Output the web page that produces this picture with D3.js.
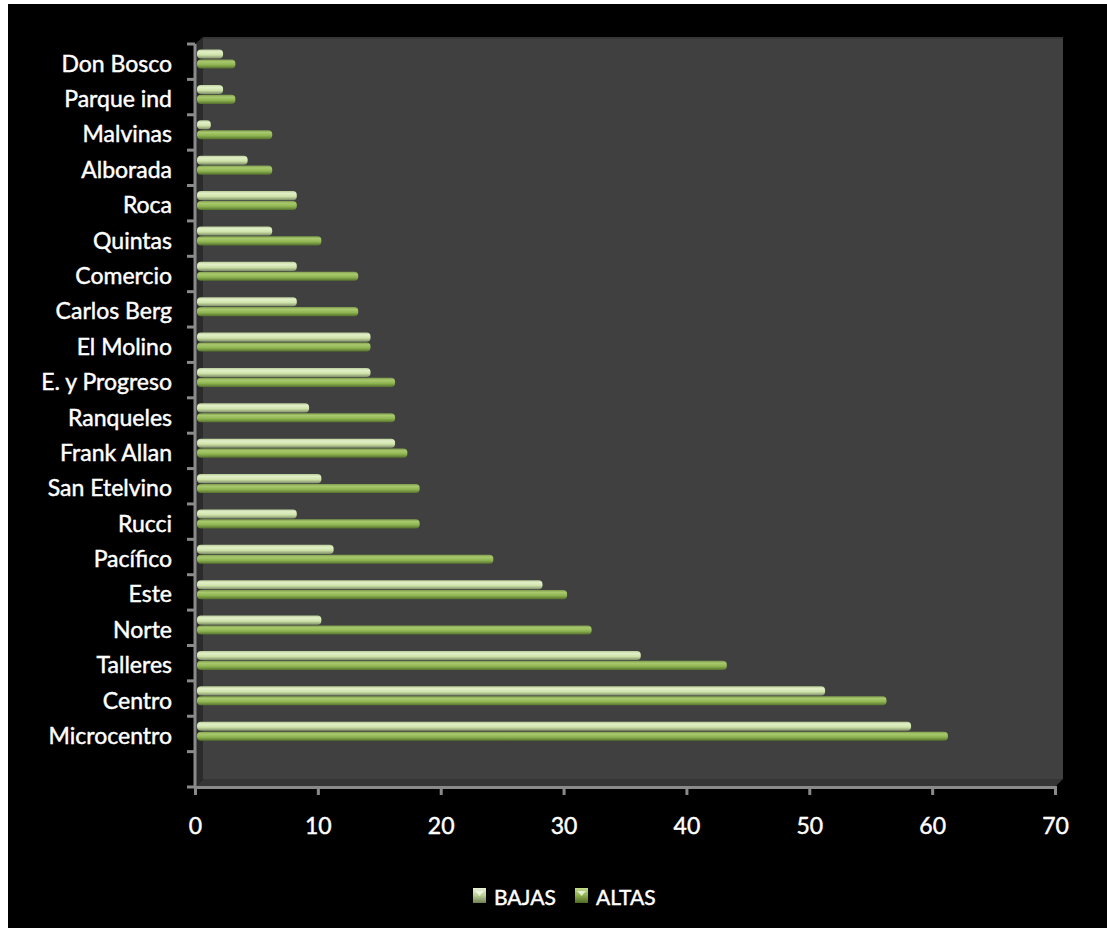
<!DOCTYPE html>
<html><head><meta charset="utf-8">
<script src="https://cdn.jsdelivr.net/npm/d3@7/dist/d3.min.js"></script>
<style>
html,body{margin:0;padding:0;background:#fff;}
svg{display:block;}
text{font-family:Lato,"Open Sans",sans-serif;fill:#fff;stroke:#fff;stroke-width:0.45px;}
</style></head>
<body>
<svg id="c" width="1107" height="928"></svg>
<script>
const categories = ["Don Bosco","Parque ind","Malvinas","Alborada","Roca","Quintas","Comercio","Carlos Berg","El Molino","E. y Progreso","Ranqueles","Frank Allan","San Etelvino","Rucci","Pacífico","Este","Norte","Talleres","Centro","Microcentro"];
const bajas = [2,2,1,4,8,6,8,8,14,14,9,16,10,8,11,28,10,36,51,58];
const altas = [3,3,6,6,8,10,13,13,14,16,16,17,18,18,24,30,32,43,56,61];
const seriesNames = ["BAJAS","ALTAS"];
const xTicks = [0,10,20,30,40,50,60,70];

(function(){
const svg = d3.select("#c");
svg.append("rect").attr("x",8).attr("y",4).attr("width",1099).attr("height",924).attr("fill","#000");

const pL=195, pR=1055, pT=44, pB=787, depth=8;
const x = d3.scaleLinear().domain([0,70]).range([pL,pR]);
const step = (pB-pT)/(categories.length+1);
const y0 = d3.scaleBand().domain(categories).range([pT, pB-step]).paddingInner(0).paddingOuter(0);
const y1 = d3.scaleBand().domain(seriesNames).range([5.5, 24.5]).paddingInner(0.08);

const defs = svg.append("defs");
function grad(id, stops){
  const g = defs.append("linearGradient").attr("id",id).attr("x1",0).attr("y1",0).attr("x2",0).attr("y2",1);
  stops.forEach(s=>g.append("stop").attr("offset",s[0]).attr("stop-color",s[1]));
}
grad("gB",[[0,"#b8cc98"],[0.25,"#e2f0c8"],[0.6,"#cfe3aa"],[1,"#7f8f68"]]);
grad("gA",[[0,"#7e9c4c"],[0.25,"#a9c96e"],[0.6,"#8fb551"],[1,"#55702e"]]);
grad("lB",[[0,"#e8f2d8"],[0.5,"#b9cf96"],[1,"#6f8050"]]);
grad("lA",[[0,"#c4dc90"],[0.5,"#8cb04c"],[1,"#4f6a26"]]);

// 3D walls
svg.append("polygon").attr("points",`${pL},${pT} ${pL+depth},${pT-depth+1} ${pL+depth},${pB-depth} ${pL},${pB}`).attr("fill","#2b2b2b");
svg.append("rect").attr("x",pL+depth).attr("y",pT-depth+1).attr("width",pR-pL).attr("height",pB-pT-1).attr("fill","#404040");
svg.append("rect").attr("x",pL+depth).attr("y",pT-depth+1).attr("width",pR-pL).attr("height",2).attr("fill","#363636");
svg.append("polygon").attr("points",`${pL},${pB} ${pL+depth},${pB-depth} ${pR+depth},${pB-depth} ${pR},${pB}`).attr("fill","#353535");

// bars
const fills = {BAJAS:"url(#gB)", ALTAS:"url(#gA)"};
const rows = categories.map((c,i)=>({c, vals:[{s:"BAJAS",v:bajas[i]},{s:"ALTAS",v:altas[i]}]}));
const g = svg.append("g");
g.selectAll("g.row").data(rows).join("g").attr("class","row")
 .attr("transform",d=>`translate(0,${y0(d.c)})`)
 .selectAll("rect").data(d=>d.vals).join("rect")
 .attr("x",x(0)+2).attr("y",d=>y1(d.s))
 .attr("width",d=>x(d.v)-x(0)+1.5).attr("height",y1.bandwidth())
 .attr("rx",4).attr("ry",4).attr("fill",d=>fills[d.s]);

// y axis
const axisColor="#8a8a8a";
svg.append("line").attr("x1",pL).attr("x2",pL).attr("y1",pT).attr("y2",pB).attr("stroke",axisColor).attr("stroke-width",3);
d3.range(categories.length+2).forEach(i=>{
  const yy = pT + i*step;
  svg.append("line").attr("x1",pL-8).attr("x2",pL).attr("y1",yy).attr("y2",yy).attr("stroke",axisColor).attr("stroke-width",3);
});
svg.append("g").selectAll("text").data(categories).join("text")
 .attr("x",172).attr("y",d=>y0(d)+step/2+1).attr("text-anchor","end").attr("dominant-baseline","central")
 .attr("font-size",23).text(d=>d);

// x axis
const xa = svg.append("g").attr("transform",`translate(0,${pB})`)
 .call(d3.axisBottom(x).tickValues(xTicks).tickSize(8).tickPadding(23).tickFormat(d3.format("d")));
xa.select(".domain").attr("stroke",axisColor).attr("stroke-width",3);
xa.selectAll(".tick line").attr("stroke",axisColor).attr("stroke-width",3);
xa.selectAll(".tick text").attr("fill","#fff").attr("font-size",23).attr("font-family","Lato,sans-serif");

// legend
const legFill = {BAJAS:"url(#lB)", ALTAS:"url(#lA)"};
const legX = [473, 575];
const lg = svg.append("g").selectAll("g").data(seriesNames).join("g").attr("transform",(d,i)=>`translate(${legX[i]},888)`);
lg.append("rect").attr("width",13).attr("height",15).attr("fill",d=>legFill[d]);
lg.append("path").attr("d","M2,3 L11,3 L6.5,8 Z").attr("fill","#f4f8ea").attr("opacity",0.8);
lg.append("text").attr("x",21).attr("y",8).attr("dominant-baseline","central").attr("font-size",21).text(d=>d);
})();
</script>
</body></html>
